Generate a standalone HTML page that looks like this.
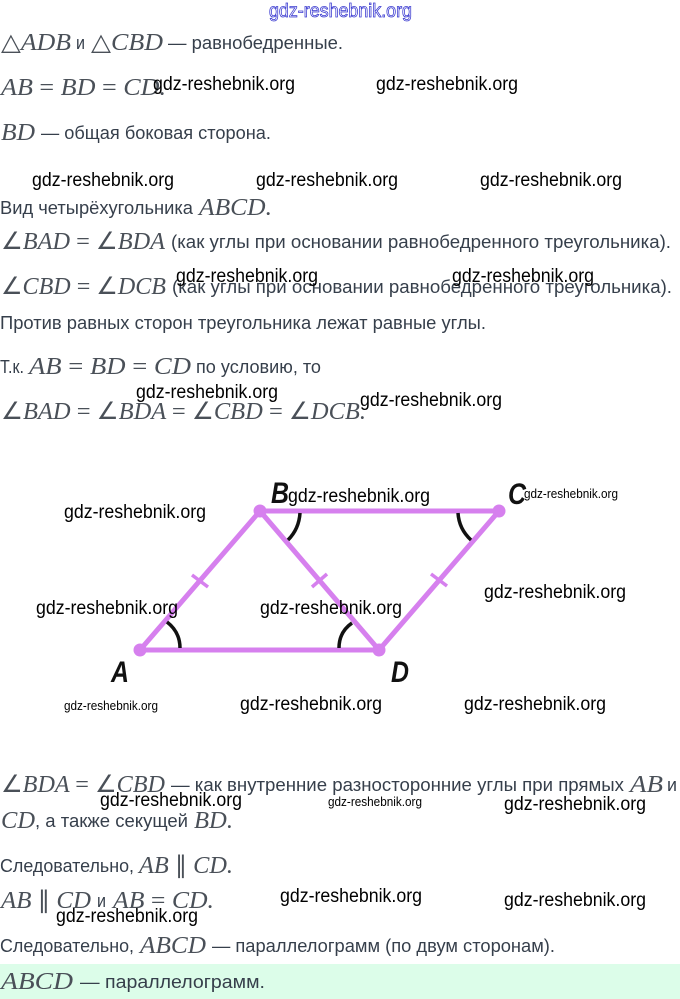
<!DOCTYPE html>
<html><head><meta charset="utf-8"><style>
html,body{margin:0;padding:0;background:#fff;width:680px;height:999px;overflow:hidden}
svg{display:block}
.t{font-family:"Liberation Sans",sans-serif;font-size:18px;fill:#363f4b}
.m{font-family:"Liberation Serif",serif;font-style:italic;font-size:24px;fill:#4a5058;transform:translateY(1px)}
.m tspan{font-style:normal}
.w{font-family:"Liberation Sans",sans-serif;font-size:19px;fill:#000}
.s{font-family:"Liberation Sans",sans-serif;font-size:13px;fill:#000}
.l{font-family:"Liberation Sans",sans-serif;font-size:30px;font-weight:bold;font-style:italic;fill:#111}
</style></head><body>
<svg width="680" height="999" viewBox="0 0 680 999" xmlns="http://www.w3.org/2000/svg">
<rect x="0" y="964" width="680" height="35" fill="#dcfde9"/>

<text x="269" y="17" textLength="143" lengthAdjust="spacingAndGlyphs" font-family="Liberation Sans, sans-serif" font-size="19" fill="#fff" stroke="#3a3ad0" stroke-width="0.8">gdz-reshebnik.org</text>

<text class="m" x="1" y="49" textLength="70" lengthAdjust="spacingAndGlyphs"><tspan>△</tspan>ADB</text>
<text class="t" x="76" y="49" textLength="9" lengthAdjust="spacingAndGlyphs">и</text>
<text class="m" x="91" y="49" textLength="72" lengthAdjust="spacingAndGlyphs"><tspan>△</tspan>CBD</text>
<text class="t" x="168" y="49" textLength="175" lengthAdjust="spacingAndGlyphs">— равнобедренные.</text>

<text class="m" x="1" y="94" textLength="165" lengthAdjust="spacingAndGlyphs">AB <tspan>=</tspan> BD <tspan>=</tspan> CD.</text>

<text class="m" x="1" y="139" textLength="34" lengthAdjust="spacingAndGlyphs">BD</text>
<text class="t" x="41" y="139" textLength="230" lengthAdjust="spacingAndGlyphs">— общая боковая сторона.</text>

<text class="t" x="0" y="214" textLength="193" lengthAdjust="spacingAndGlyphs">Вид четырёхугольника</text>
<text class="m" x="199" y="214" textLength="73" lengthAdjust="spacingAndGlyphs">ABCD.</text>

<text class="m" x="1" y="248" textLength="164" lengthAdjust="spacingAndGlyphs"><tspan>∠</tspan>BAD <tspan>=</tspan> <tspan>∠</tspan>BDA</text>
<text class="t" x="171" y="248" textLength="500" lengthAdjust="spacingAndGlyphs">(как углы при основании равнобедренного треугольника).</text>

<text class="m" x="1" y="293" textLength="165" lengthAdjust="spacingAndGlyphs"><tspan>∠</tspan>CBD <tspan>=</tspan> <tspan>∠</tspan>DCB</text>
<text class="t" x="172" y="293" textLength="500" lengthAdjust="spacingAndGlyphs">(как углы при основании равнобедренного треугольника).</text>

<text class="t" x="0" y="329" textLength="486" lengthAdjust="spacingAndGlyphs">Против равных сторон треугольника лежат равные углы.</text>

<text class="t" x="0" y="373" textLength="24" lengthAdjust="spacingAndGlyphs">Т.к.</text>
<text class="m" x="29" y="373" textLength="162" lengthAdjust="spacingAndGlyphs">AB <tspan>=</tspan> BD <tspan>=</tspan> CD</text>
<text class="t" x="196" y="373" textLength="125" lengthAdjust="spacingAndGlyphs">по условию, то</text>

<text class="m" x="1" y="418" textLength="365" lengthAdjust="spacingAndGlyphs"><tspan>∠</tspan>BAD <tspan>=</tspan> <tspan>∠</tspan>BDA <tspan>=</tspan> <tspan>∠</tspan>CBD <tspan>=</tspan> <tspan>∠</tspan>DCB.</text>

<g fill="none" stroke="#d680ee" stroke-width="5">
<path d="M140 650L260 511H499L379 650H140"/>
<path d="M260 511L379 650"/>
<path d="M192 575L208 587M312 587L327 574M431 574L447 586" stroke-width="3.5"/>
</g>
<circle cx="140" cy="650" r="6.5" fill="#d680ee"/>
<circle cx="260" cy="511" r="6.5" fill="#d680ee"/>
<circle cx="379" cy="650" r="6.5" fill="#d680ee"/>
<circle cx="499" cy="511" r="6.5" fill="#d680ee"/>
<g fill="none" stroke="#111" stroke-width="3.5">
<path d="M167 622Q180 632 180 648"/>
<path d="M352 623Q339 632 339 648"/>
<path d="M300 513Q299 529 288 540"/>
<path d="M458 513Q459 529 471 540"/>
</g>
<text class="l" x="271" y="503" textLength="18" lengthAdjust="spacingAndGlyphs">B</text>
<text class="l" x="508" y="504" textLength="18" lengthAdjust="spacingAndGlyphs">C</text>
<text class="l" x="111" y="682" textLength="18" lengthAdjust="spacingAndGlyphs">A</text>
<text class="l" x="391" y="682" textLength="18" lengthAdjust="spacingAndGlyphs">D</text>

<text class="m" x="1" y="791" textLength="164" lengthAdjust="spacingAndGlyphs"><tspan>∠</tspan>BDA <tspan>=</tspan> <tspan>∠</tspan>CBD</text>
<text class="t" x="171" y="791" textLength="453" lengthAdjust="spacingAndGlyphs">— как внутренние разносторонние углы при прямых</text>
<text class="m" x="630" y="791" textLength="33" lengthAdjust="spacingAndGlyphs">AB</text>
<text class="t" x="667" y="791" textLength="10" lengthAdjust="spacingAndGlyphs">и</text>

<text class="m" x="1" y="827" textLength="34" lengthAdjust="spacingAndGlyphs">CD</text>
<text class="t" x="35" y="827" textLength="153" lengthAdjust="spacingAndGlyphs">, а также секущей</text>
<text class="m" x="194" y="827" textLength="39" lengthAdjust="spacingAndGlyphs">BD.</text>

<text class="t" x="0" y="872" textLength="134" lengthAdjust="spacingAndGlyphs">Следовательно,</text>
<text class="m" x="139" y="872" textLength="94" lengthAdjust="spacingAndGlyphs">AB <tspan>∥</tspan> CD.</text>

<text class="m" x="1" y="907" textLength="90" lengthAdjust="spacingAndGlyphs">AB <tspan>∥</tspan> CD</text>
<text class="t" x="97" y="907" textLength="9" lengthAdjust="spacingAndGlyphs">и</text>
<text class="m" x="113" y="907" textLength="101" lengthAdjust="spacingAndGlyphs">AB <tspan>=</tspan> CD.</text>

<text class="t" x="0" y="952" textLength="134" lengthAdjust="spacingAndGlyphs">Следовательно,</text>
<text class="m" x="140" y="952" textLength="66" lengthAdjust="spacingAndGlyphs">ABCD</text>
<text class="t" x="212" y="952" textLength="343" lengthAdjust="spacingAndGlyphs">— параллелограмм (по двум сторонам).</text>

<text class="m" x="1" y="988" textLength="72" lengthAdjust="spacingAndGlyphs">ABCD</text>
<text class="t" x="80" y="988" textLength="185" lengthAdjust="spacingAndGlyphs">— параллелограмм.</text>

<text class="w" x="153" y="90" textLength="142" lengthAdjust="spacingAndGlyphs">gdz-reshebnik.org</text>
<text class="w" x="376" y="90" textLength="142" lengthAdjust="spacingAndGlyphs">gdz-reshebnik.org</text>
<text class="w" x="32" y="186" textLength="142" lengthAdjust="spacingAndGlyphs">gdz-reshebnik.org</text>
<text class="w" x="256" y="186" textLength="142" lengthAdjust="spacingAndGlyphs">gdz-reshebnik.org</text>
<text class="w" x="480" y="186" textLength="142" lengthAdjust="spacingAndGlyphs">gdz-reshebnik.org</text>
<text class="w" x="176" y="282" textLength="142" lengthAdjust="spacingAndGlyphs">gdz-reshebnik.org</text>
<text class="w" x="452" y="282" textLength="142" lengthAdjust="spacingAndGlyphs">gdz-reshebnik.org</text>
<text class="w" x="136" y="398" textLength="142" lengthAdjust="spacingAndGlyphs">gdz-reshebnik.org</text>
<text class="w" x="360" y="406" textLength="142" lengthAdjust="spacingAndGlyphs">gdz-reshebnik.org</text>
<text class="w" x="288" y="502" textLength="142" lengthAdjust="spacingAndGlyphs">gdz-reshebnik.org</text>
<text class="w" x="64" y="518" textLength="142" lengthAdjust="spacingAndGlyphs">gdz-reshebnik.org</text>
<text class="w" x="36" y="614" textLength="142" lengthAdjust="spacingAndGlyphs">gdz-reshebnik.org</text>
<text class="w" x="260" y="614" textLength="142" lengthAdjust="spacingAndGlyphs">gdz-reshebnik.org</text>
<text class="w" x="484" y="598" textLength="142" lengthAdjust="spacingAndGlyphs">gdz-reshebnik.org</text>
<text class="w" x="240" y="710" textLength="142" lengthAdjust="spacingAndGlyphs">gdz-reshebnik.org</text>
<text class="w" x="464" y="710" textLength="142" lengthAdjust="spacingAndGlyphs">gdz-reshebnik.org</text>
<text class="w" x="100" y="806" textLength="142" lengthAdjust="spacingAndGlyphs">gdz-reshebnik.org</text>
<text class="w" x="504" y="810" textLength="142" lengthAdjust="spacingAndGlyphs">gdz-reshebnik.org</text>
<text class="w" x="280" y="902" textLength="142" lengthAdjust="spacingAndGlyphs">gdz-reshebnik.org</text>
<text class="w" x="504" y="906" textLength="142" lengthAdjust="spacingAndGlyphs">gdz-reshebnik.org</text>
<text class="w" x="56" y="922" textLength="142" lengthAdjust="spacingAndGlyphs">gdz-reshebnik.org</text>
<text class="s" x="524" y="498" textLength="94" lengthAdjust="spacingAndGlyphs">gdz-reshebnik.org</text>
<text class="s" x="64" y="710" textLength="94" lengthAdjust="spacingAndGlyphs">gdz-reshebnik.org</text>
<text class="s" x="328" y="806" textLength="94" lengthAdjust="spacingAndGlyphs">gdz-reshebnik.org</text>
</svg>
</body></html>
